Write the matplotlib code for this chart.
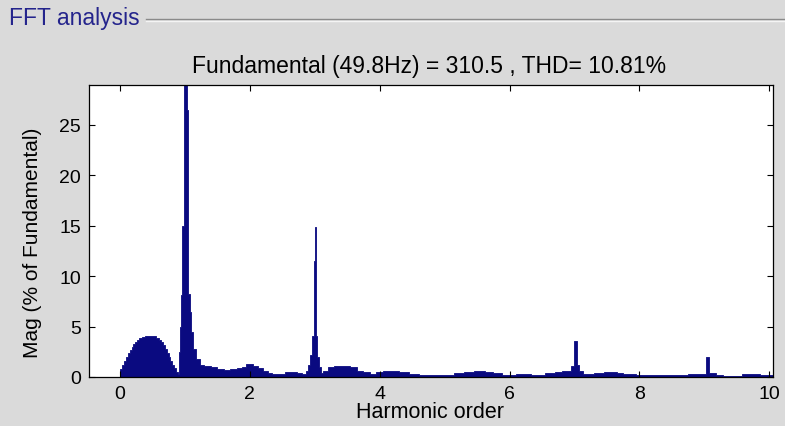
"""FFT analysis spectrum (powergui style) redrawn with matplotlib."""

import matplotlib
matplotlib.use("Agg")
import matplotlib.pyplot as plt
from matplotlib.lines import Line2D

# harmonic order where each step starts, and magnitude (% of fundamental) held until the next one
harmonic_order = [
    0.00, 0.03, 0.06, 0.09, 0.12, 0.15, 0.18, 0.21, 0.24, 0.27,
    0.30, 0.34, 0.38, 0.43, 0.52, 0.56, 0.60, 0.63, 0.66, 0.69,
    0.72, 0.75, 0.78, 0.81, 0.84, 0.87, 0.895, 0.91, 0.925, 0.945,
    0.962, 0.985, 1.027, 1.05, 1.08, 1.10, 1.13, 1.18, 1.23, 1.30,
    1.40, 1.50, 1.60, 1.70, 1.80, 1.88, 1.95, 2.05, 2.12, 2.20,
    2.28, 2.35, 2.45, 2.55, 2.65, 2.72, 2.80, 2.86, 2.90, 2.93,
    2.96, 2.985, 3.00, 3.02, 3.04, 3.07, 3.10, 3.13, 3.20, 3.30,
    3.55, 3.65, 3.75, 3.85, 3.95, 4.05, 4.30, 4.45, 4.60, 5.15,
    5.30, 5.45, 5.62, 5.75, 5.88, 6.10, 6.33, 6.55, 6.70, 6.80,
    6.95, 6.985, 7.035, 7.07, 7.13, 7.30, 7.45, 7.65, 7.75, 7.95,
    8.75, 9.03, 9.075, 9.18, 9.28, 9.58, 9.85, 10.06,
]
magnitude = [
    0.8, 1.2, 1.6, 2.0, 2.4, 2.7, 3.0, 3.3, 3.5, 3.7,
    3.85, 3.95, 4.05, 4.1, 4.05, 3.9, 3.7, 3.45, 3.15, 2.8,
    2.4, 2.0, 1.6, 1.2, 0.9, 0.45, 0.25, 2.5, 5.0, 8.1,
    15.0, 100.0, 26.5, 8.2, 6.4, 4.5, 2.8, 1.8, 1.2, 1.05,
    0.95, 0.8, 0.7, 0.75, 0.85, 1.0, 1.3, 1.1, 0.85, 0.6,
    0.4, 0.3, 0.3, 0.5, 0.5, 0.4, 0.3, 0.6, 1.2, 2.2,
    4.1, 11.5, 14.9, 4.1, 2.0, 1.0, 0.35, 0.6, 1.0, 1.1,
    1.0, 0.6, 0.45, 0.3, 0.45, 0.55, 0.45, 0.3, 0.2, 0.35,
    0.45, 0.6, 0.45, 0.35, 0.2, 0.3, 0.2, 0.35, 0.45, 0.6,
    1.1, 3.6, 1.2, 0.6, 0.25, 0.4, 0.45, 0.35, 0.25, 0.15,
    0.3, 2.0, 0.35, 0.2, 0.1, 0.3, 0.15, 0.15,
]

x_ticks = [0, 2, 4, 6, 8, 10]
y_ticks = [0, 5, 10, 15, 20, 25]
title_text = "Fundamental (49.8Hz) = 310.5 , THD= 10.81%"

plt.rcParams["font.family"] = ["Liberation Sans", "DejaVu Sans"]

bar_color = "#0a0a80"
panel_color = "#dadada"
W, H = 785, 427

fig = plt.figure(figsize=(W / 100, H / 100), dpi=100, facecolor=panel_color)

# panel frame label, as in the GUI
fig.text(9 / W, 1 - 18 / H, "FFT analysis", color="#24248c", fontsize=16.5,
         va="center", ha="left")
fig.add_artist(Line2D([146 / W, 1.0], [1 - 20 / H] * 2, color="#8a8a8a", lw=1.0))
fig.add_artist(Line2D([146 / W, 1.0], [1 - 21.5 / H] * 2, color="#f4f4f4", lw=1.0))

ax = fig.add_axes([89.3 / W, 1 - 378 / H, (773.3 - 89.3) / W, (378 - 86) / H])
ax.set_facecolor("white")
ax.fill_between(harmonic_order, magnitude, step="post", color=bar_color, lw=0.6,
                edgecolor=bar_color)

ax.set_xlim(-0.47, 10.06)
ax.set_ylim(0, 28.94)
ax.set_xticks(x_ticks)
ax.set_yticks(y_ticks)
ax.tick_params(direction="in", top=True, right=True, length=4, width=0.8,
               labelsize=14, pad=6)
for spine in ax.spines.values():
    spine.set_linewidth(0.9)

fig.text(429 / W, 1 - 67 / H, title_text, fontsize=16.5, ha="center", va="center")
fig.text(430 / W, 1 - 413 / H, "Harmonic order", fontsize=15.5, ha="center", va="center")
fig.text(33 / W, 1 - 243 / H, "Mag (% of Fundamental)", fontsize=15, rotation=90,
         ha="center", va="center")

plt.savefig("out.png", dpi=100, facecolor=fig.get_facecolor())
